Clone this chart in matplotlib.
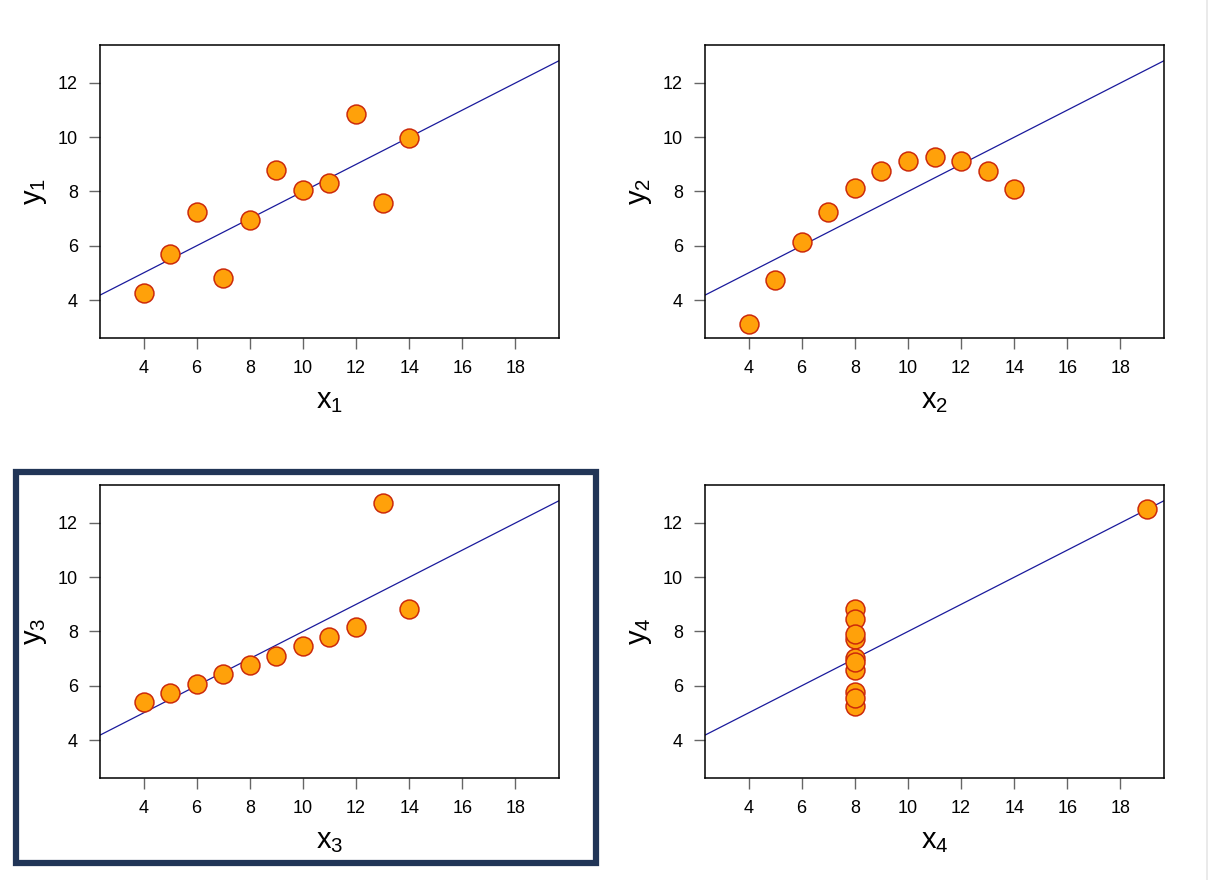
import matplotlib
matplotlib.use("Agg")
import matplotlib.pyplot as plt
from matplotlib.patches import Rectangle
from matplotlib.lines import Line2D

plt.rcParams['font.family'] = ['Liberation Sans', 'DejaVu Sans']
plt.rcParams['mathtext.fontset'] = 'custom'
plt.rcParams['mathtext.rm'] = 'Liberation Sans'
plt.rcParams['mathtext.it'] = 'Liberation Sans'

# Anscombe's quartet
x123 = [10, 8, 13, 9, 11, 14, 6, 4, 12, 7, 5]
y1 = [8.04, 6.95, 7.58, 8.81, 8.33, 9.96, 7.24, 4.26, 10.84, 4.82, 5.68]
y2 = [9.14, 8.14, 8.74, 8.77, 9.26, 8.10, 6.13, 3.10, 9.13, 7.26, 4.74]
y3 = [7.46, 6.77, 12.74, 7.11, 7.81, 8.84, 6.08, 5.39, 8.15, 6.42, 5.73]
x4 = [8, 8, 8, 8, 8, 8, 8, 19, 8, 8, 8]
y4 = [6.58, 5.76, 7.71, 8.84, 8.47, 7.04, 5.25, 12.50, 5.56, 7.91, 6.89]

fit_a = 3.0  # intercept
fit_b = 0.5  # slope

xticks = [4, 6, 8, 10, 12, 14, 16, 18]
yticks = [4, 6, 8, 10, 12]

panels = [
    (x123, y1, 1, (100, 45)),
    (x123, y2, 2, (705, 45)),
    (x123, y3, 3, (100, 485)),
    (x4, y4, 4, (705, 485)),
]

W, H = 1210, 880
fig = plt.figure(figsize=(W / 100, H / 100), dpi=100)
fig.patch.set_facecolor('white')

aw, ah = 459, 293
for xs, ys, n, (px, py) in panels:
    ax = fig.add_axes([px / W, 1 - (py + ah) / H, aw / W, ah / H])
    ax.set_xlim(2.36, 19.64)
    ax.set_ylim(2.6, 13.4)
    ax.axline((0, fit_a), slope=fit_b, color='#1a1a9c', lw=0.9, zorder=2)
    ax.scatter(xs, ys, s=185, facecolor='#ffa10a', edgecolor='#cc2a0a',
               linewidth=1.1, zorder=3)
    ax.set_xticks(xticks)
    ax.set_yticks(yticks)
    ax.tick_params(direction='out', length=8, width=1, color='#666666',
                   labelsize=13, pad=8)
    for s in ax.spines.values():
        s.set_linewidth(1.1)
    ax.set_xlabel(r'$\mathregular{x_%d}$' % n, fontsize=21, labelpad=7)
    ax.set_ylabel(r'$\mathregular{y_%d}$' % n, fontsize=21, labelpad=6)

# highlight frame around the third panel
fig.patches.append(Rectangle((16 / W, 1 - 863 / H), 580 / W, 391 / H,
                             transform=fig.transFigure, fill=False,
                             edgecolor='#213557', linewidth=4.5))
# faint border on the right edge
fig.lines.append(Line2D([1207 / W, 1207 / W], [0, 1], transform=fig.transFigure,
                        color='#e6e6e6', lw=1.2))

fig.savefig('out.png', dpi=100, facecolor='white')
